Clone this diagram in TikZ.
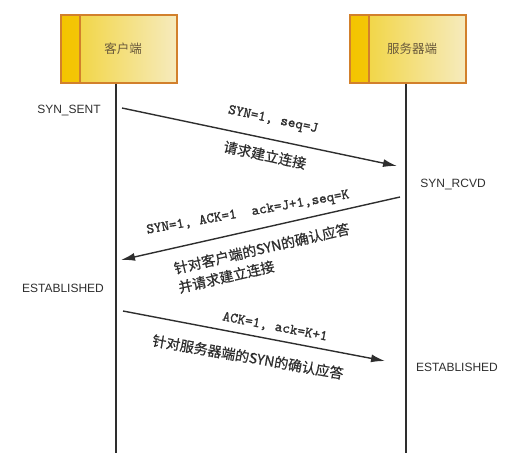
\documentclass[tikz,border=0pt]{standalone}
\usepackage{fontspec}
\setmainfont{Liberation Sans}
\newfontfamily\cjk{Noto Sans CJK SC}
\newfontfamily\cjknote{Noto Sans CJK SC}[FakeBold=0.6]
\newfontfamily\fieldfont{lmmono10-regular.otf}[FakeBold=1.2]
\usepackage{xcolor}
\usepackage{tikz}
\usetikzlibrary{calc}
\usetikzlibrary{arrows.meta,positioning}

\definecolor{boxedge}{HTML}{D2802C}
\definecolor{boxleft}{HTML}{F1D232}
\definecolor{boxright}{HTML}{F6EBBE}
\definecolor{stripleft}{HTML}{F4C400}
\definecolor{stripright}{HTML}{F2D028}
\definecolor{boxtext}{HTML}{6A5A3C}
\definecolor{inkgray}{HTML}{2E2E2E}

\begin{document}
\begin{tikzpicture}[x=1pt,y=-1pt,
    party/.style={draw=boxedge,line width=1.4pt,minimum width=116pt,minimum height=68pt,
        left color=boxleft,right color=boxright,text=boxtext,
        font=\cjk\fontsize{12.5}{14}\selectfont,
        path picture={
            \shade[left color=stripleft,right color=stripright]
                (path picture bounding box.north west) rectangle
                ([xshift=19pt]path picture bounding box.south west);
            \draw[boxedge,line width=1.4pt]
                ([xshift=19pt]path picture bounding box.north west) --
                ([xshift=19pt]path picture bounding box.south west);
        }},
    lifeline/.style={line width=1.5pt,draw=inkgray},
    msg/.style={line width=1.4pt,draw=inkgray,-{Latex[length=14pt,width=8pt]}},
    state/.style={text=inkgray,font=\fontsize{12}{14}\selectfont},
    field/.style={text=inkgray,font=\fieldfont\fontsize{14.5}{16}\selectfont},
    note/.style={text=inkgray,align=left,font=\cjknote\fontsize{14}{19.5}\selectfont}]
\useasboundingbox (0,0) rectangle (517,475);

% Parties and their lifelines
\node[party] (client) at (119,49) {\hspace*{8pt}客户端};
\node[party] (server) at (408,49) {\hspace*{8pt}服务器端};
\coordinate (clientend) at (116,453);
\coordinate (serverend) at (406,453);
\draw[lifeline] (client.south -| clientend) -- (clientend);
\draw[lifeline] (server.south -| serverend) -- (serverend);

% States
\node[state] (synsent) at (69,110) {SYN\_SENT};
\node[state] (synrcvd) at (453,184) {SYN\_RCVD};
\node[state] (estclient) at (63,288) {ESTABLISHED};
\node[state] (estserver) at (457,367) {ESTABLISHED};

% Message ends
\coordinate (syn from) at (122,108);
\coordinate (syn to) at (397,166);
\coordinate (synack from) at (400,197);
\coordinate (synack to) at (121,260);
\coordinate (ack from) at (123,311);
\coordinate (ack to) at (385,361);

% First handshake
\draw[msg] (syn from) -- (syn to);
\node[field,rotate=-12] (synfield) at (273,120) {SYN=1, seq=J};
\node[note,rotate=-12] (synnote) at (265,155) {请求建立连接};

% Second handshake
\draw[msg] (synack from) -- (synack to);
\node[field,rotate=10] (synackfield) at (248,213) {SYN=1, ACK=1\ \ ack=J+1,seq=K};
\node[note,rotate=13] (synacknote) at (264,258) {针对客户端的SYN的确认应答\\并请求建立连接};

% Third handshake
\draw[msg] (ack from) -- (ack to);
\node[field,rotate=-11] (ackfield) at (275,327) {ACK=1, ack=K+1};
\node[note,rotate=-10] (acknote) at (248,357) {针对服务器端的SYN的确认应答};
\end{tikzpicture}
\end{document}
